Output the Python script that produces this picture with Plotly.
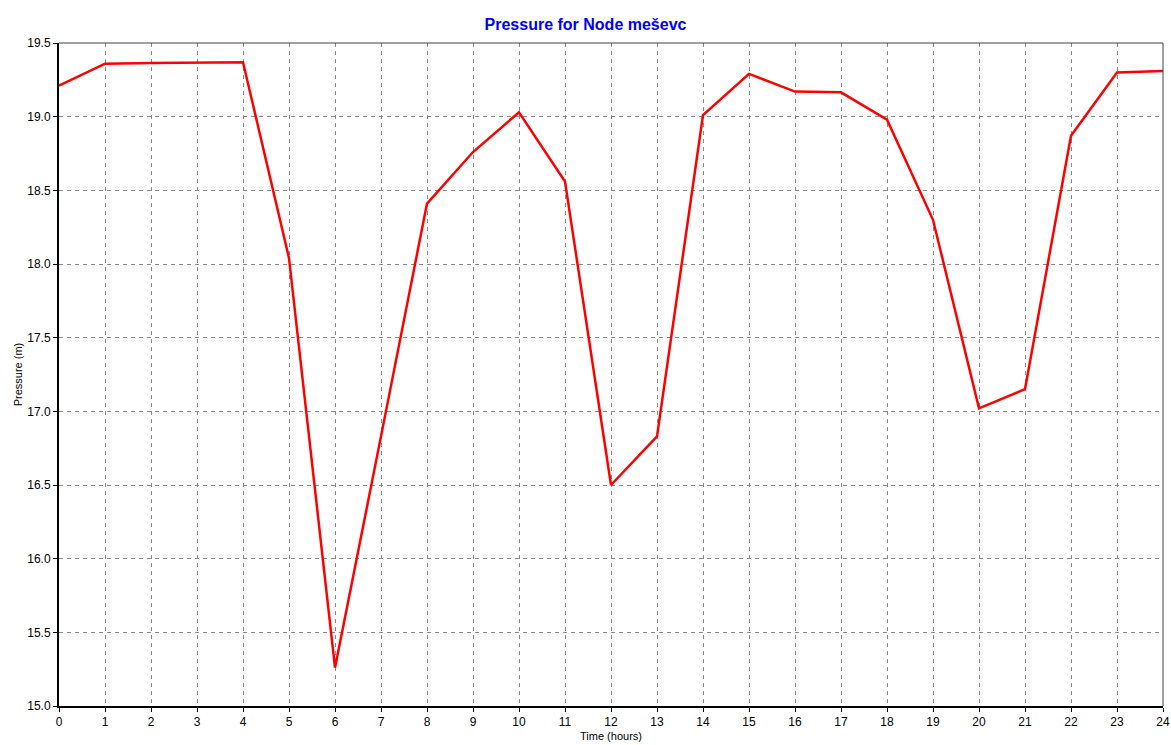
import plotly.graph_objects as go

# Hourly pressure at node "meševc"
hours = list(range(0, 25))
pressure = [19.21, 19.36, 19.365, 19.37, 19.37, 18.04, 15.26, 16.83, 18.41, 18.76,
            19.03, 18.56, 16.50, 16.83, 19.01, 19.29, 19.17, 19.165, 18.98, 18.30,
            17.02, 17.15, 18.87, 19.30, 19.31]

x_ticks = list(range(0, 25))
y_ticks = [15.0, 15.5, 16.0, 16.5, 17.0, 17.5, 18.0, 18.5, 19.0, 19.5]

fig = go.Figure()
fig.add_trace(go.Scatter(
    x=hours, y=pressure, mode="lines",
    line=dict(color="#ff0000", width=2.5),
    showlegend=False, hoverinfo="x+y",
))

axis_font = dict(family="Liberation Sans, Arial, sans-serif", size=12, color="#000000")
grid_style = dict(showgrid=True, gridcolor="#8a8a8a", gridwidth=1, griddash="4px,4px")

fig.update_xaxes(
    range=[0, 24], tickvals=x_ticks, ticktext=[str(t) for t in x_ticks],
    showline=True, linecolor="#000000", linewidth=2, mirror=False,
    ticks="outside", ticklen=4, tickcolor="#000000", tickwidth=1,
    tickfont=axis_font, zeroline=False, ticklabeloverflow="allow", automargin=False,
    title=dict(text="Time (hours)", font=dict(family="Liberation Sans, Arial, sans-serif", size=11, color="#000000"), standoff=4),
    **grid_style,
)
fig.update_yaxes(
    range=[15.0, 19.5], tickvals=y_ticks, ticktext=[f"{t:.1f}" for t in y_ticks],
    showline=True, linecolor="#000000", linewidth=2, mirror=False,
    ticks="outside", ticklen=4, tickcolor="#000000", tickwidth=1,
    tickfont=axis_font, zeroline=False, ticklabeloverflow="allow", automargin=False,
    title=dict(text="Pressure (m)", font=dict(family="Liberation Sans, Arial, sans-serif", size=11, color="#000000"), standoff=2),
    **grid_style,
)

# thin frame along the top and right edges of the plot area
fig.add_shape(type="line", xref="paper", yref="paper", x0=0, x1=1, y0=1, y1=1,
              line=dict(color="#404040", width=1))
fig.add_shape(type="line", xref="paper", yref="paper", x0=1, x1=1, y0=0, y1=1,
              line=dict(color="#404040", width=1))

fig.update_layout(
    width=1171, height=745,
    paper_bgcolor="#ffffff", plot_bgcolor="#ffffff",
    margin=dict(l=59, r=8, t=43, b=39),
    title=dict(text="<b>Pressure for Node meševc</b>", x=0.5, xanchor="center",
               y=1 - 24 / 745, yanchor="middle", yref="container",
               font=dict(family="Liberation Sans, Arial, sans-serif", size=16, color="#0000ff")),
)

fig.write_html("out.html")
